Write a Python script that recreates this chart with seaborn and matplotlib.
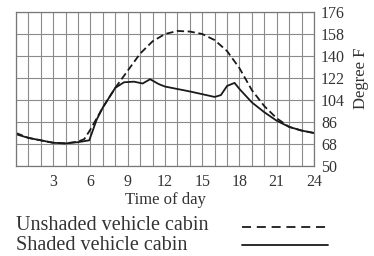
import pandas as pd
import numpy as np
import matplotlib
matplotlib.use("Agg")
import matplotlib.pyplot as plt
from matplotlib.lines import Line2D
from matplotlib.ticker import MultipleLocator
import seaborn as sns

# data (hour of day, degree F)
unshaded_hours = [0, 1, 2, 3, 4, 5, 5.5, 6, 7, 8, 9, 10, 11, 12, 13, 14, 15, 16, 17, 18, 19, 20, 21, 22, 23, 24]
unshaded_temp = [77, 73, 71, 69, 68.5, 70, 72, 80, 98, 114, 128, 142, 152, 158, 160.5, 160, 158, 153, 144, 130, 112, 99, 89, 82, 79, 77]

shaded_hours = [0, 1, 2, 3, 4, 5, 5.9, 6.5, 7, 8, 8.7, 9.5, 10.2, 10.8, 11.5, 12, 14, 16, 16.5, 17, 17.6, 18, 19, 20, 21, 22, 23, 24]
shaded_temp = [76, 73, 71, 69, 68.5, 69.5, 71, 88, 98, 114, 118.5, 119, 117.5, 121, 117, 115, 111, 106.5, 108, 115.5, 118, 113, 102, 94, 87, 82, 79, 77]

x_ticks = [3, 6, 9, 12, 15, 18, 21, 24]
y_ticks = [50, 68, 86, 104, 122, 140, 158, 176]
labels = ["Unshaded vehicle cabin", "Shaded vehicle cabin"]

sns.set_style("white")
plt.rcParams["font.family"] = ["Liberation Serif", "DejaVu Serif"]

fig = plt.figure(figsize=(3.74, 2.56), dpi=100)
ax = fig.add_axes([16 / 374, 1 - 166 / 256, 298 / 374, 154 / 256])

df_u = pd.DataFrame({"hour": unshaded_hours, "temp": unshaded_temp})
df_s = pd.DataFrame({"hour": shaded_hours, "temp": shaded_temp})

ink = "#1a1a1a"
sns.lineplot(data=df_u, x="hour", y="temp", ax=ax, color=ink, lw=1.3)
ax.lines[-1].set_dashes([4, 2])
sns.lineplot(data=df_s, x="hour", y="temp", ax=ax, color=ink, lw=1.3)

ax.set_xlim(0, 24)
ax.set_ylim(50, 176)
ax.set_xticks(x_ticks)
ax.xaxis.set_minor_locator(MultipleLocator(1))
ax.set_yticks(y_ticks)
ax.yaxis.tick_right()
ax.yaxis.set_label_position("right")
ax.grid(True, which="both", axis="x", color="#8c8c8c", lw=0.8)
ax.grid(True, which="major", axis="y", color="#8c8c8c", lw=0.8)
ax.tick_params(axis="both", which="both", length=0, labelsize=11.5, colors="#333333")
ax.tick_params(axis="x", pad=6)
ax.tick_params(axis="y", pad=5)
for s in ax.spines.values():
    s.set_color("#777777")
    s.set_linewidth(0.9)

ax.set_xlabel("Time of day", fontsize=12, color="#333333", labelpad=1)
ax.set_ylabel("Degree F", fontsize=12, color="#333333")
ax.yaxis.set_label_coords(1.13, 0.57)

# legend: text first, sample line after
fig.text(16 / 374, 1 - 225 / 256, labels[0], fontsize=14.5, color="#333333", va="center", ha="left")
fig.text(16 / 374, 1 - 245 / 256, labels[1], fontsize=14.5, color="#333333", va="center", ha="left")
fig.add_artist(Line2D([242 / 374, 328 / 374], [1 - 227 / 256, 1 - 227 / 256], color=ink, lw=1.3, dashes=[5, 3.2]))
fig.add_artist(Line2D([242 / 374, 328 / 374], [1 - 245 / 256, 1 - 245 / 256], color=ink, lw=1.3))

fig.savefig("out.png", dpi=100)
